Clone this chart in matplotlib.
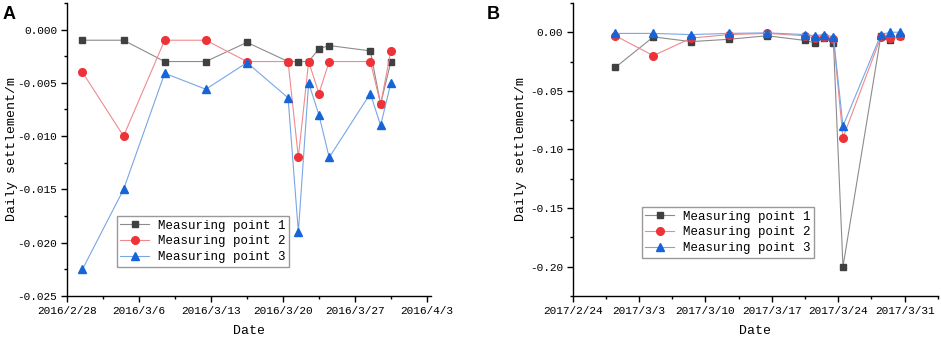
import matplotlib
matplotlib.use('Agg')
import matplotlib.pyplot as plt
import matplotlib.ticker as mticker
import matplotlib.dates as mdates
import pandas as pd

# ---- data ----
dates_a = ['2016-02-29', '2016-03-04', '2016-03-08', '2016-03-12', '2016-03-16',
           '2016-03-20', '2016-03-21', '2016-03-22', '2016-03-23', '2016-03-24',
           '2016-03-28', '2016-03-29', '2016-03-30']
a_p1 = [-0.001, -0.001, -0.003, -0.003, -0.0012, -0.003, -0.003, -0.003,
        -0.0018, -0.0015, -0.002, -0.007, -0.003]
a_p2 = [-0.004, -0.010, -0.001, -0.001, -0.003, -0.003, -0.012, -0.003,
        -0.006, -0.003, -0.003, -0.007, -0.002]
a_p3 = [-0.0225, -0.015, -0.0041, -0.0056, -0.0031, -0.0064, -0.019, -0.005,
        -0.008, -0.012, -0.006, -0.009, -0.005]

dates_b = ['2017-02-28', '2017-03-04', '2017-03-08', '2017-03-12', '2017-03-16',
           '2017-03-20', '2017-03-21', '2017-03-22', '2017-03-23', '2017-03-24',
           '2017-03-28', '2017-03-29', '2017-03-30']
b_p1 = [-0.030, -0.004, -0.008, -0.006, -0.003, -0.007, -0.009, -0.005,
        -0.009, -0.200, -0.003, -0.007, -0.003]
b_p2 = [-0.003, -0.020, -0.005, -0.002, -0.001, -0.003, -0.005, -0.004,
        -0.006, -0.090, -0.004, -0.005, -0.003]
b_p3 = [-0.001, -0.001, -0.002, -0.001, -0.0005, -0.002, -0.003, -0.002,
        -0.004, -0.080, -0.002, 0.0, 0.0]

labels = ['Measuring point 1', 'Measuring point 2', 'Measuring point 3']

plt.rcParams['font.family'] = ['Liberation Mono', 'DejaVu Sans Mono']

styles = [
    dict(marker='s', color='#8c8c8c', mfc='#404040', mec='#404040', ms=5),
    dict(marker='o', color='#f08a8e', mfc='#ee3338', mec='#ee3338', ms=5.5),
    dict(marker='^', color='#7aa6e4', mfc='#1565d8', mec='#1565d8', ms=6),
]


def date_fmt(x, pos):
    d = mdates.num2date(x)
    return f'{d.year}/{d.month}/{d.day}'


def make_yfmt(nd):
    def f(y, pos):
        s = f'{y:.{nd}f}'
        if float(s) == 0:
            s = s.lstrip('-')
        return s
    return mticker.FuncFormatter(f)


def draw(ax, dates, series, x0, x1, ylim, ystep, nd, leg_xy, letter, letter_x):
    t = pd.to_datetime(dates) + pd.Timedelta(hours=12)
    for vals, lab, st in zip(series, labels, styles):
        ax.plot(t, vals, lw=0.8, label=lab, **st)
    ax.set_xlim(pd.Timestamp(x0), pd.Timestamp(x1))
    ax.set_xticks(pd.date_range(x0, periods=6, freq='7D'))
    ax.xaxis.set_major_formatter(mticker.FuncFormatter(date_fmt))
    ax.xaxis.set_minor_locator(mticker.AutoMinorLocator(2))
    ax.set_ylim(*ylim)
    ax.yaxis.set_major_locator(mticker.MultipleLocator(ystep))
    ax.yaxis.set_minor_locator(mticker.AutoMinorLocator(2))
    ax.yaxis.set_major_formatter(make_yfmt(nd))
    for s in ['top', 'right']:
        ax.spines[s].set_visible(False)
    for s in ['left', 'bottom']:
        ax.spines[s].set_linewidth(1.0)
    ax.tick_params(which='major', direction='out', length=4, width=1,
                   labelsize=8, pad=3)
    ax.tick_params(which='minor', direction='out', length=2, width=1)
    ax.set_xlabel('Date', fontsize=9.5)
    ax.set_ylabel('Daily settlement/m', fontsize=9.5)
    ax.xaxis.set_label_coords(0.5, -0.1)
    leg = ax.legend(loc='upper left', bbox_to_anchor=leg_xy, borderaxespad=0,
                    fontsize=9, fancybox=False, edgecolor='#808080',
                    handlelength=2.3, labelspacing=0.3, borderpad=0.3,
                    handletextpad=0.7)
    leg.get_frame().set_linewidth(1.0)
    ax.text(letter_x, 0.99, letter, transform=ax.transAxes, fontsize=13,
            fontweight='bold', family='Liberation Sans', ha='left', va='top')


fig = plt.figure(figsize=(9.41, 3.40), dpi=100)
ax1 = fig.add_axes([0.0712, 0.1294, 0.387, 0.862])
ax2 = fig.add_axes([0.6086, 0.1294, 0.388, 0.862])

draw(ax1, dates_a, [a_p1, a_p2, a_p3], '2016-02-28', '2016-04-03 10:00',
     (-0.025, 0.0025), 0.005, 3, (0.1365, 0.273), 'A', -0.176)
ax1.yaxis.set_label_coords(-0.135, 0.503)

draw(ax2, dates_b, [b_p1, b_p2, b_p3], '2017-02-24', '2017-04-03 12:00',
     (-0.225, 0.025), 0.05, 2, (0.189, 0.304), 'B', -0.235)
ax2.yaxis.set_label_coords(-0.125, 0.503)

fig.savefig('out.png', dpi=100)
